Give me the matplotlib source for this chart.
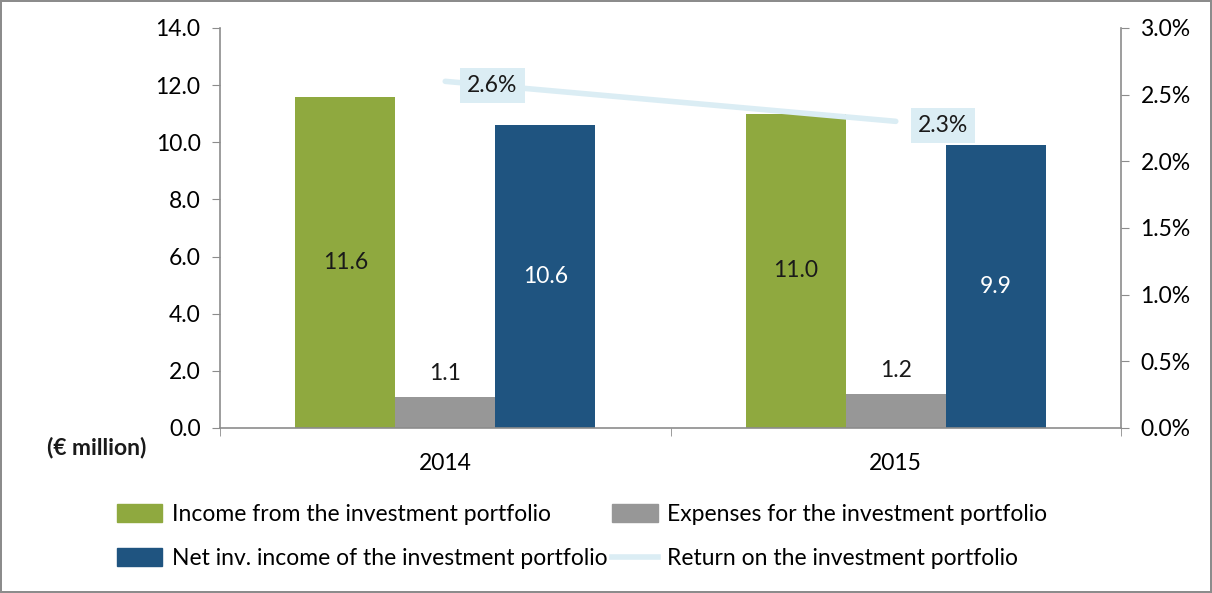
import matplotlib.pyplot as plt
import numpy as np
from matplotlib.lines import Line2D
from matplotlib.patches import Patch

plt.rcParams['font.family'] = ['Lato', 'DejaVu Sans']

years = ['2014', '2015']
income = [11.6, 11.0]
expenses = [1.1, 1.2]
net_income = [10.6, 9.9]
returns = [2.6, 2.3]

GREEN = '#8fa93f'
GREY = '#979797'
BLUE = '#1f5480'
LIGHT = '#dbedf4'
AXIS = '#8c8c8c'
FS = 16.5

fig = plt.figure(figsize=(12.12, 5.93), dpi=100)
fig.patch.set_edgecolor('#8c8c8c')
fig.patch.set_linewidth(1.5)
ax = fig.add_axes([220 / 1212, 1 - 428 / 593, (1121 - 220) / 1212, (428 - 28) / 593])

x = np.arange(len(years))
w = 0.222
b1 = ax.bar(x - w, income, w, color=GREEN, zorder=2)
b2 = ax.bar(x, expenses, w, color=GREY, zorder=2)
b3 = ax.bar(x + w, net_income, w, color=BLUE, zorder=2)

for rect, v in zip(b1, income):
    ax.text(rect.get_x() + w / 2, v / 2, f'{v:.1f}', ha='center', va='center',
            fontsize=FS, color='#1a1a1a', zorder=3)
for rect, v in zip(b2, expenses):
    ax.text(rect.get_x() + w / 2, v + 0.45, f'{v:.1f}', ha='center', va='bottom',
            fontsize=FS, color='#1a1a1a', zorder=3)
for rect, v in zip(b3, net_income):
    ax.text(rect.get_x() + w / 2, v / 2, f'{v:.1f}', ha='center', va='center',
            fontsize=FS, color='white', zorder=3)

ax.set_xlim(-0.5, 1.5)
ax.set_ylim(0, 14)
ax.set_yticks(np.arange(0, 14.1, 2))
ax.set_yticklabels([f'{t:.1f}' for t in np.arange(0, 14.1, 2)])
ax.set_xticks(x)
ax.set_xticklabels(years)
ax.set_xticks([-0.5, 0.5, 1.5], minor=True)
ax.tick_params(axis='x', which='major', length=0, pad=18, labelsize=FS)
ax.tick_params(axis='x', which='minor', length=6, color=AXIS, direction='out')
ax.tick_params(axis='y', length=6, color=AXIS, labelsize=FS, pad=8)
for side in ['top', 'right']:
    ax.spines[side].set_visible(False)
for side in ['left', 'bottom']:
    ax.spines[side].set_color(AXIS)
    ax.spines[side].set_linewidth(1.2)

# return line on the secondary axis
ax2 = ax.twinx()
ax2.plot(x, returns, color=LIGHT, linewidth=4, solid_capstyle='round', zorder=4)
for xi, r in zip(x, returns):
    ax2.annotate(f'{r:.1f}%', (xi, r), xytext=(34, -3), textcoords='offset points',
                 ha='center', va='center', fontsize=FS, color='#1a1a1a', zorder=6,
                 bbox=dict(boxstyle='square,pad=0.3', fc=LIGHT, ec='none'))
ax2.set_ylim(0, 3.0)
ax2.set_yticks(np.arange(0, 3.01, 0.5))
ax2.set_yticklabels([f'{t:.1f}%' for t in np.arange(0, 3.01, 0.5)])
ax2.tick_params(axis='y', length=6, color=AXIS, labelsize=FS, pad=8)
for side in ['top', 'left', 'bottom']:
    ax2.spines[side].set_visible(False)
ax2.spines['right'].set_color(AXIS)
ax2.spines['right'].set_linewidth(1.2)

fig.text(97 / 1212, 1 - 447 / 593, '(€ million)', fontsize=FS, fontweight='bold',
         ha='center', va='center', color='#1a1a1a')

# column-major order so the rows read income/expenses, net/return
handles = [Patch(color=GREEN), Patch(color=BLUE), Patch(color=GREY),
           Line2D([], [], color=LIGHT, linewidth=4)]
labels = ['Income from the investment portfolio', 'Net inv. income of the investment portfolio',
          'Expenses for the investment portfolio', 'Return on the investment portfolio']
fig.legend(handles, labels, ncol=2, loc='center', bbox_to_anchor=(0.48, 0.095),
           frameon=False, fontsize=FS, handlelength=2.0, handleheight=0.8,
           handletextpad=0.4, columnspacing=0.2, labelspacing=1.0)

fig.savefig('out.png', dpi=100)
